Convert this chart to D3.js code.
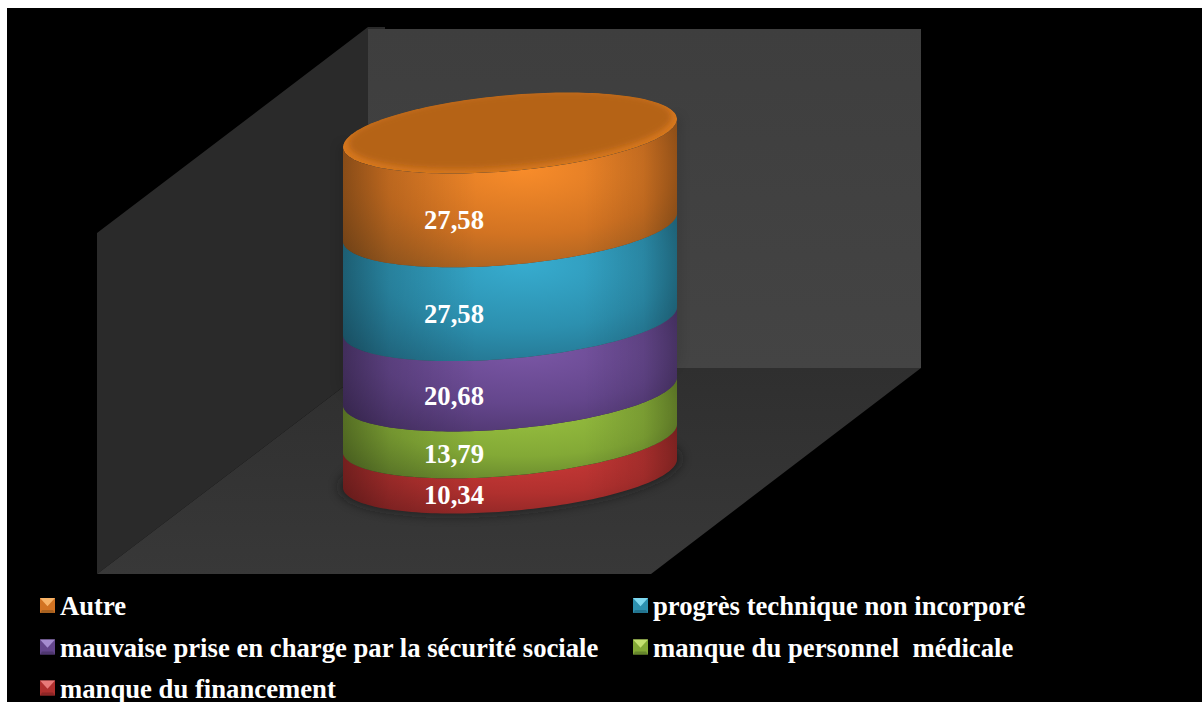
<!DOCTYPE html>
<html lang="fr">
<head>
<meta charset="utf-8">
<title>Cylindre empilé</title>
<script src="https://cdn.jsdelivr.net/npm/d3@7"></script>
<style>
  html, body { margin: 0; padding: 0; background: #fff; }
  svg { display: block; }
  text { font-family: "Liberation Serif", "Times New Roman", serif; font-weight: bold; fill: #fff; white-space: pre; }
</style>
</head>
<body>
<svg id="chart" width="1202" height="702"></svg>
<script>
// Stack order, bottom to top
const categories = [
  "manque du financement",
  "manque du personnel  médicale",
  "mauvaise prise en charge par la sécurité sociale",
  "progrès technique non incorporé",
  "Autre"
];
const values = [10.34, 13.79, 20.68, 27.58, 27.58];
const valueLabels = ["10,34", "13,79", "20,68", "27,58", "27,58"];

// Shades per series: bright centre, middle, dark rim, bevel highlight
const brights = ["#cc3a38", "#98c040", "#7b57a6", "#37accf", "#f88c2a"];
const mids    = ["#b0302e", "#83a936", "#64468c", "#2c90af", "#d27322"];
const rims    = ["#862424", "#5f7d2a", "#4a3369", "#226d87", "#9c5c20"];
const bevels  = ["#e87a78", "#c4e070", "#a58cd0", "#7fd8f0", "#f8b468"];

// Legend reading order, as indices into the series
const legendOrder = [4, 3, 2, 1, 0];

const svg = d3.select("#chart");
const defs = svg.append("defs");

// Scales: value along the cylinder's height, unit position across its width
const y = d3.scaleLinear().domain([0, 100]).range([487, 147]);
const x = d3.scaleLinear().domain([-1, 1]).range([343, 677]);

// A cross-section is a sheared ellipse: right side lifted, left side lowered
const tilt = 14, depth = 38;
const ringX = t => x(Math.cos(t));
const ringY = (v, t) => y(v) - tilt - tilt * Math.cos(t) + depth * Math.sin(t);
const line = d3.line();

const angles = (from, to, n = 90) => d3.range(n + 1).map(i => from + (to - from) * i / n);

function ringPath(v, k = 1) {
  const cx = x(0), cy = y(v) - tilt;
  return line(angles(0, 2 * Math.PI, 180).map(t => [
    cx + (ringX(t) - cx) * k,
    cy + (ringY(v, t) - cy) * k
  ])) + "Z";
}
function bandPath(v0, v1) {
  const upper = angles(Math.PI, 0).map(t => [ringX(t), ringY(v1, t)]);
  const lower = angles(0, Math.PI).map(t => [ringX(t), ringY(v0, t)]);
  return line(upper.concat(lower)) + "Z";
}

// Backdrop
svg.append("rect").attr("x", 7).attr("y", 8).attr("width", 1195).attr("height", 694).attr("fill", "#000");

const wallLeft = 368, wallRight = 921, wallTop = 29, wallBottom = 368;
const frontLeft = 97, frontRight = 651, frontBottom = 574, frontTop = 233;

const floorGrad = defs.append("linearGradient").attr("id", "floorShade").attr("x1", 0).attr("y1", 0).attr("x2", 0).attr("y2", 1);
floorGrad.append("stop").attr("offset", 0).attr("stop-color", "#2f2f2f");
floorGrad.append("stop").attr("offset", 1).attr("stop-color", "#383838");
const backGrad = defs.append("linearGradient").attr("id", "backShade").attr("x1", 0).attr("y1", 0).attr("x2", 0).attr("y2", 1);
backGrad.append("stop").attr("offset", 0).attr("stop-color", "#3e3e3e");
backGrad.append("stop").attr("offset", 1).attr("stop-color", "#444444");

svg.append("path").attr("fill", "url(#backShade)")
  .attr("d", line([[wallLeft, wallTop], [wallRight, wallTop], [wallRight, wallBottom], [wallLeft, wallBottom]]) + "Z");
svg.append("path").attr("fill", "#2a2a2a")
  .attr("d", line([[frontLeft, frontTop], [wallLeft, wallTop - 2], [385, wallTop - 2], [385, wallTop], [wallLeft, wallTop], [wallLeft, wallBottom], [frontLeft, frontBottom]]) + "Z");
svg.append("path").attr("fill", "url(#floorShade)")
  .attr("d", line([[frontLeft, frontBottom], [wallLeft, wallBottom], [wallRight, wallBottom], [frontRight, frontBottom]]) + "Z");

// Soft shadows
const blur = (id, s) => defs.append("filter").attr("id", id)
  .attr("x", "-20%").attr("y", "-40%").attr("width", "140%").attr("height", "180%")
  .append("feGaussianBlur").attr("stdDeviation", s);
blur("shadowBlur", 6);
blur("capBlur", 3);

svg.append("path").attr("d", ringPath(0, 1.02))
  .attr("fill", "#161616").attr("filter", "url(#shadowBlur)").attr("opacity", 0.7);
svg.append("path").attr("d", bandPath(30, 100)).attr("transform", "translate(0,-3)")
  .attr("fill", "none").attr("stroke", "#000").attr("stroke-width", 5)
  .attr("opacity", 0.18).attr("filter", "url(#shadowBlur)");

// Cylinder sides
const tops = d3.cumsum(values).map(v => v / d3.sum(values) * 100);
const bottoms = tops.map((_, i) => i ? tops[i - 1] : 0);

const sideDark = defs.append("linearGradient").attr("id", "sideDark");
[[0, 0.3], [0.14, 0.12], [0.4, 0], [0.72, 0], [0.9, 0.1], [1, 0.28]].forEach(([o, a]) =>
  sideDark.append("stop").attr("offset", o).attr("stop-color", "#000").attr("stop-opacity", a));

values.forEach((_, i) => {
  const g = defs.append("radialGradient").attr("id", `face${i}`)
    .attr("cx", 0.54).attr("cy", 0.34).attr("r", 0.8);
  g.append("stop").attr("offset", 0).attr("stop-color", brights[i]);
  g.append("stop").attr("offset", 0.55).attr("stop-color", mids[i]);
  g.append("stop").attr("offset", 1).attr("stop-color", rims[i]);
});

const bands = svg.append("g").selectAll("g").data(values).join("g");
bands.append("path").attr("d", (_, i) => bandPath(bottoms[i], tops[i])).attr("fill", (_, i) => `url(#face${i})`);
bands.append("path").attr("d", (_, i) => bandPath(bottoms[i], tops[i])).attr("fill", "url(#sideDark)");

// Top cap: rim catches the light on the near side only
defs.append("clipPath").attr("id", "capClip").append("path").attr("d", ringPath(100));
const cap = svg.append("g").attr("clip-path", "url(#capClip)");
cap.append("path").attr("d", ringPath(100)).attr("fill", "#d8781f");
cap.append("path").attr("d", ringPath(100, 0.97)).attr("transform", "translate(0,-3)")
  .attr("fill", "#b56318").attr("filter", "url(#capBlur)");

// Value labels, set on the front of each band
svg.append("g").selectAll("text").data(values).join("text")
  .attr("x", 454)
  .attr("y", (_, i) => y((bottoms[i] + tops[i]) / 2) + 22 + 13)
  .attr("text-anchor", "middle")
  .attr("font-size", 26.7)
  .text((_, i) => valueLabels[i]);

// Legend in two columns, with bevelled swatches
const columnX = [40, 633], rowY = [598, 639.5, 680.5], size = 15;
const legend = svg.append("g").selectAll("g").data(legendOrder).join("g")
  .attr("transform", (_, n) => `translate(${columnX[n % 2]},${rowY[Math.floor(n / 2)]})`);

legend.append("rect").attr("width", size).attr("height", size).attr("fill", i => mids[i]);
legend.append("path").attr("fill", i => bevels[i])
  .attr("d", line([[0, 0], [size, 0], [size / 2, size * 0.55]]) + "Z");
legend.append("path").attr("fill", i => rims[i]).attr("opacity", 0.8)
  .attr("d", line([[0, size], [size, size], [size - 2, size - 3], [2, size - 3]]) + "Z");
legend.append("text")
  .attr("x", 20).attr("y", 17)
  .attr("font-size", 26.7)
  .text(i => categories[i]);
</script>
</body>
</html>
